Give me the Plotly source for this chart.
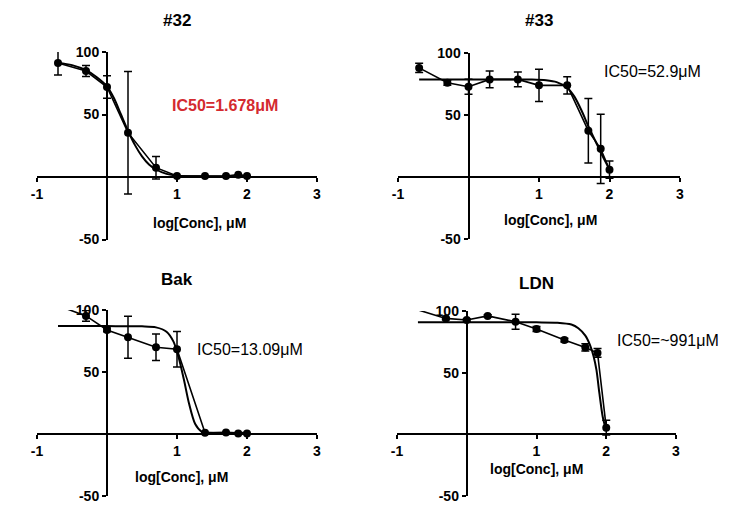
import plotly.graph_objects as go

# log10 of the tested concentrations (0.2 ... 100 uM)
log_conc = [-0.7, -0.3, 0.0, 0.3, 0.7, 1.0, 1.4, 1.7, 1.875, 2.0]

titles = ["#32", "#33", "Bak", "LDN"]
ic50_labels = ["IC50=1.678μM", "IC50=52.9μM", "IC50=13.09μM", "IC50=~991μM"]
x_title = "log[Conc], μM"

x_tickvals = [-1, 1, 2, 3]
x_ticktext = ["-1", "1", "2", "3"]
y_tickvals = [-50, 50, 100]
y_ticktext = ["-50", "50", "100"]

# mean response and error for each compound
resp_32 = [91.2, 84.8, 72.0, 35.5, 7.5, 0.8, 0.8, 0.8, 1.9, 0.8]
err_32 = [9.5, 4.4, 9.0, 49.0, 9.0, 0, 0, 0, 0, 0]
resp_33 = [88.0, 76.0, 72.8, 78.7, 78.7, 73.9, 73.9, 37.3, 22.7, 5.9]
err_33 = [3.7, 2.0, 6.0, 6.7, 5.9, 13.0, 7.0, 26.0, 28.0, 7.0]
resp_bak = [103.5, 95.2, 83.9, 78.0, 70.0, 68.4, 1.0, 1.3, 0.5, 0.5]
err_bak = [0, 4.3, 1.5, 17.0, 10.7, 14.3, 0, 0, 0, 0]
resp_ldn = [100.9, 94.0, 92.7, 96.0, 91.3, 85.4, 76.4, 70.5, 66.0, 5.4]
err_ldn = [0, 1.0, 1.0, 1.0, 6.0, 2.0, 1.5, 3.0, 3.5, 6.0]

# fitted dose-response curves
fit_x_32 = [-0.7, -0.5, -0.3, -0.15, 0.0, 0.1, 0.2, 0.3, 0.4, 0.5, 0.6, 0.7, 0.85, 1.0, 1.4, 2.0]
fit_y_32 = [91.5, 89.5, 85.5, 80.0, 72.5, 63.0, 50.0, 37.0, 25.5, 16.5, 10.0, 6.0, 2.5, 1.0, 0.5, 0.5]
fit_x_33 = [-0.7, 0.0, 0.5, 0.9, 1.1, 1.25, 1.4, 1.5, 1.6, 1.7, 1.8, 1.9, 2.0]
fit_y_33 = [78.7, 78.7, 78.7, 78.6, 78.0, 76.5, 72.0, 65.0, 54.0, 41.0, 29.0, 17.0, 6.0]
fit_x_bak = [-0.7, 0.0, 0.5, 0.7, 0.85, 0.95, 1.02, 1.1, 1.17, 1.26, 1.35, 1.45, 2.0]
fit_y_bak = [87.0, 87.0, 86.8, 86.0, 82.5, 74.5, 62.5, 43.5, 25.0, 8.0, 2.0, 1.0, 1.0]
fit_x_ldn = [-0.7, 0.0, 1.0, 1.3, 1.5, 1.6, 1.7, 1.77, 1.82, 1.86, 1.9, 1.95, 2.0]
fit_y_ldn = [90.8, 90.8, 90.8, 90.5, 89.0, 86.0, 80.0, 72.0, 63.0, 52.0, 34.0, 14.0, 3.0]

responses = [resp_32, resp_33, resp_bak, resp_ldn]
errors = [err_32, err_33, err_bak, err_ldn]
fits = [(fit_x_32, fit_y_32), (fit_x_33, fit_y_33), (fit_x_bak, fit_y_bak), (fit_x_ldn, fit_y_ldn)]

# the page body adds an 8px margin, so the figure is 8px smaller and shifted
OFF = 8
W, H = 740 - OFF, 505 - OFF
XR = [-1, 3]
YR = [-50, 100]

# panel boxes in window pixels: left, right, top(y=100), bottom(y=-50)
boxes = [(37, 317, 52, 239.5), (398, 680, 53, 239), (37, 317, 310, 496), (397, 676, 311, 496)]
# title centre heights in window pixels, other labels in data units
title_py = [21, 21, 279, 283]
xlab_pos = [(1.32, -36.8), (1.16, -35), (1.06, -34.4), (1.0, -28.0)]
ic50_pos = [(1.69, 57.6), (2.61, 84.8), (2.04, 68.5), (2.88, 76.4)]
ic50_color = ["#d42a2f", "black", "black", "black"]
ic50_weight = ["bold", "normal", "normal", "normal"]

FONT = "Liberation Sans, Arial, sans-serif"

fig = go.Figure()
annotations = []
layout = {}

for i in range(4):
    n = "" if i == 0 else str(i + 1)
    xa, ya = "x" + n, "y" + n
    l, r, t, b = [v - OFF for v in boxes[i]]
    xd = [l / W, r / W]
    yd = [1 - b / H, 1 - t / H]
    xpos = yd[0] + (0 - YR[0]) / (YR[1] - YR[0]) * (yd[1] - yd[0])
    ypos = xd[0] + (0 - XR[0]) / (XR[1] - XR[0]) * (xd[1] - xd[0])

    layout["xaxis" + n] = dict(
        domain=xd, range=XR, anchor="free", position=xpos, automargin=False,
        showline=True, linewidth=2, linecolor="black",
        ticks="outside", ticklen=4, tickwidth=2, tickcolor="black",
        tickvals=x_tickvals, ticktext=x_ticktext,
        tickfont=dict(family=FONT, size=14, color="black", weight="bold"),
        showgrid=False, zeroline=False, fixedrange=True,
    )
    layout["yaxis" + n] = dict(
        domain=yd, range=YR, anchor="free", position=ypos, automargin=False,
        showline=True, linewidth=2, linecolor="black",
        ticks="outside", ticklen=4, tickwidth=2, tickcolor="black",
        tickvals=y_tickvals, ticktext=y_ticktext,
        tickfont=dict(family=FONT, size=14, color="black", weight="bold"),
        showgrid=False, zeroline=False, fixedrange=True,
    )

    fx, fy = fits[i]
    fig.add_trace(go.Scatter(
        x=fx, y=fy, mode="lines", xaxis=xa, yaxis=ya,
        line=dict(color="black", width=2, shape="spline", smoothing=0.8),
        showlegend=False, hoverinfo="skip",
    ))
    fig.add_trace(go.Scatter(
        x=log_conc, y=responses[i], mode="lines", xaxis=xa, yaxis=ya,
        line=dict(color="black", width=1.6),
        showlegend=False, hoverinfo="skip",
    ))
    # points above the axis range are clipped in the original
    vis = [k for k, v in enumerate(responses[i]) if v <= YR[1]]
    fig.add_trace(go.Scatter(
        x=[log_conc[k] for k in vis], y=[responses[i][k] for k in vis],
        mode="markers", xaxis=xa, yaxis=ya,
        marker=dict(color="black", size=8, symbol="circle"),
        error_y=dict(type="data", array=[errors[i][k] for k in vis],
                     color="black", thickness=1.5, width=4),
        cliponaxis=False, showlegend=False,
    ))

    annotations.append(dict(
        x=(xd[0] + xd[1]) / 2, y=1 - (title_py[i] - OFF) / H, xref="paper", yref="paper",
        xanchor="center", yanchor="middle",
        text=titles[i], showarrow=False,
        font=dict(family=FONT, size=17, color="black", weight="bold"),
    ))
    annotations.append(dict(
        x=xlab_pos[i][0], y=xlab_pos[i][1], xref=xa, yref=ya, text=x_title,
        xanchor="center", yanchor="middle",
        showarrow=False, font=dict(family=FONT, size=14, color="black", weight="bold"),
    ))
    annotations.append(dict(
        x=ic50_pos[i][0], y=ic50_pos[i][1], xref=xa, yref=ya, text=ic50_labels[i],
        xanchor="center", yanchor="middle", showarrow=False,
        font=dict(family=FONT, size=16, color=ic50_color[i], weight=ic50_weight[i]),
    ))

fig.update_layout(
    width=W, height=H,
    margin=dict(l=0, r=0, t=0, b=0, autoexpand=False),
    paper_bgcolor="white", plot_bgcolor="white",
    annotations=annotations,
    **layout,
)

fig.write_html("out.html")
